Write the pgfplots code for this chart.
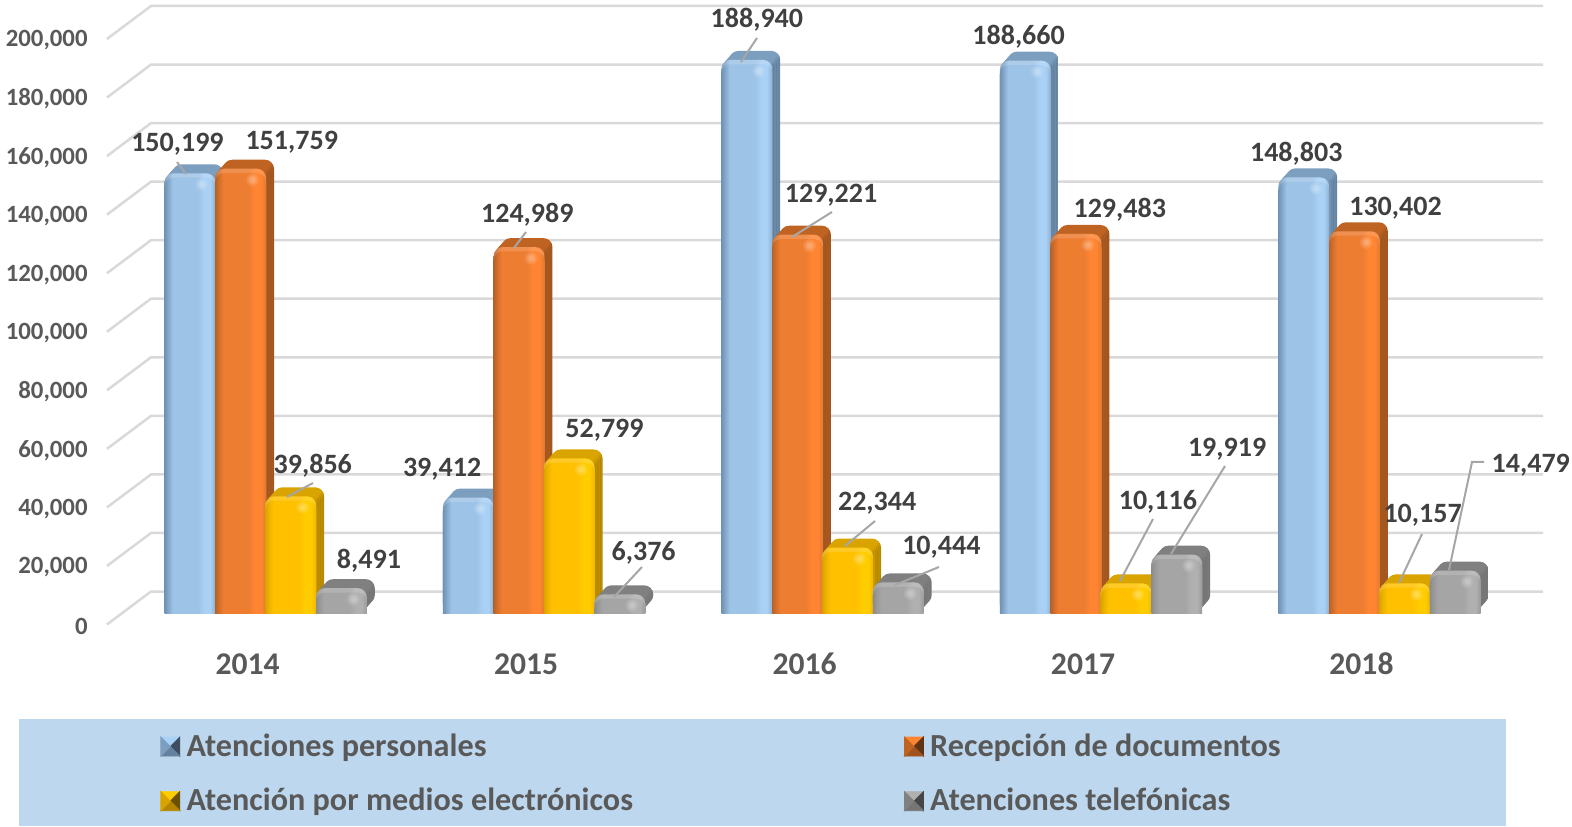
\documentclass[border=0pt]{standalone}
\usepackage{fontspec}
\setmainfont{Carlito}
\usepackage{pgfplots}
\usepackage{pgfplotstable}
\pgfplotsset{compat=1.18}

\definecolor{gridc}{HTML}{D9D9D9}
\definecolor{leadc}{HTML}{A6A6A6}
\definecolor{tickc}{HTML}{595959}
\definecolor{numc}{HTML}{404040}
\definecolor{legbg}{HTML}{BDD7EE}

% one set of tones per series: edge, edge2, base, bright, rim, top, side
\newcommand{\tones}[8]{%
  \definecolor{#1a}{HTML}{#2}\definecolor{#1b}{HTML}{#3}\definecolor{#1c}{HTML}{#4}%
  \definecolor{#1d}{HTML}{#5}\definecolor{#1e}{HTML}{#6}\definecolor{#1t}{HTML}{#7}\definecolor{#1s}{HTML}{#8}%
  \colorlet{#1al}{#1a!85!white}\colorlet{#1bl}{#1b!85!white}\colorlet{#1cl}{#1c!85!white}%
  \colorlet{#1dl}{#1d!85!white}\colorlet{#1el}{#1e!85!white}%
  \pgfdeclarehorizontalshading{#1face}{100bp}{color(0bp)=(#1a); color(25bp)=(#1a); color(29bp)=(#1b); color(33bp)=(#1c);
    color(58bp)=(#1c); color(64bp)=(#1d); color(70bp)=(#1d); color(75bp)=(#1e); color(100bp)=(#1e)}%
  \pgfdeclarehorizontalshading{#1bevel}{100bp}{color(0bp)=(#1al); color(25bp)=(#1al); color(29bp)=(#1bl); color(33bp)=(#1cl);
    color(58bp)=(#1cl); color(64bp)=(#1dl); color(70bp)=(#1dl); color(75bp)=(#1el); color(100bp)=(#1el)}%
  \pgfdeclarehorizontalshading{#1side}{100bp}{color(0bp)=(#1t); color(72bp)=(#1t); color(74bp)=(#1s); color(100bp)=(#1s)}%
}
\tones{blu}{6F93B5}{86AACC}{9DC3E6}{A9D0F5}{8DB0D0}{7D9FBF}{64829F}
\tones{ora}{B5622A}{D7702B}{ED7D31}{FF8533}{E07A30}{BF6323}{A0551F}
\tones{yel}{D9A300}{F0B400}{FFC000}{FFCC00}{F0B800}{D9A300}{B38600}
\tones{gra}{8C8C8C}{9A9A9A}{A5A5A5}{B0B0B0}{9A9A9A}{808080}{757575}

\pgfplotstableread{
year  per     doc     med    tel
2014  150199  151759  39856  8491
2015  39412   124989  52799  6376
2016  188940  129221  22344  10444
2017  188660  129483  10116  19919
2018  148803  130402  10157  14479
}\datatable

% label centres in picture pixels
\pgfplotstableread{
px    py   val
177   144  150199
291   142  151759
312   466  39856
368   561  8491
441   469  39412
526   215  124989
603   430  52799
642   553  6376
755   20   188940
829   195  129221
875   503  22344
939   547  10444
1016  37   188660
1117  210  129483
1155  502  10116
1224  449  19919
1293  154  148803
1392  208  130402
1419  515  10157
1527  465  14479
}\labeltable

\newcommand{\px}[2]{rel axis cs:{(#1)/1572},{1-(#2)/826}}
\newcommand{\leader}[1]{\draw[leadc,line width=1pt] #1;}

% one bar: side copies pushed back, then the face, its top bevel and its square foot
\newcommand{\onebar}[4]{%
  \pgfplotsinvokeforeach{5,4,3,2,1}{
    \addplot[forget plot,ybar,bar width=0.1825,bar shift=#2,draw=none,shade,shading=#3side,
      restrict x to domain=#4:#4,rounded corners=4.5pt,xshift=##1*0.8pt,yshift=##1*0.9pt]
      table[x=year,y=#1] {\datatable};
  }
  \addplot[forget plot,ybar,bar width=0.1825,bar shift=#2,draw=none,shade,shading=#3bevel,
    restrict x to domain=#4:#4,rounded corners=4.5pt] table[x=year,y=#1] {\datatable};
  \addplot[forget plot,ybar,bar width=0.1825,bar shift=#2,draw=none,shade,shading=#3face,
    restrict x to domain=#4:#4,rounded corners=4.5pt] table[x=year,y expr=\thisrow{#1}-1500] {\datatable};
  \addplot[forget plot,ybar,bar width=0.1825,bar shift=#2,draw=none,shade,shading=#3face,
    restrict x to domain=#4:#4] table[x=year,y expr=\thisrow{#1}-4600] {\datatable};
}
\newcommand{\glow}[5]{% column, shift, tone prefix, size, opacity
  \addplot[forget plot,only marks,mark=*,mark size=#4,
    mark options={draw opacity=0,line width=0pt,fill=#3d!45!white,fill opacity=#5}]
    table[x expr=\thisrow{year}+#2+0.043,y expr=\thisrow{#1}-3800] {\datatable};
}
\newcommand{\bars}[3]{% column, shift, tone prefix
  \onebar{#1}{#2}{#3}{2014}\onebar{#1}{#2}{#3}{2015}\onebar{#1}{#2}{#3}{2016}%
  \onebar{#1}{#2}{#3}{2017}\onebar{#1}{#2}{#3}{2018}%
  \glow{#1}{#2}{#3}{3.2pt}{0.18}\glow{#1}{#2}{#3}{2.3pt}{0.22}\glow{#1}{#2}{#3}{1.4pt}{0.28}%
}

\newcommand{\pyramid}[5]{% top, right, bottom, left, text
  \addlegendimage{legend image code/.code={
    \fill[#1] (0pt,4.75pt)--(9.5pt,4.75pt)--(4.75pt,0pt)--cycle;
    \fill[#2] (9.5pt,4.75pt)--(9.5pt,-4.75pt)--(4.75pt,0pt)--cycle;
    \fill[#3] (0pt,-4.75pt)--(9.5pt,-4.75pt)--(4.75pt,0pt)--cycle;
    \fill[#4] (0pt,4.75pt)--(0pt,-4.75pt)--(4.75pt,0pt)--cycle;
  }}
  \addlegendentry{#5}
}

\begin{document}
\begin{tikzpicture}
\begin{axis}[
  scale only axis,
  width=786pt, height=413pt,
  xmin=2013.0459, xmax=2018.6915,
  ymin=-72758, ymax=209394,
  clip=false,
  axis line style={draw=none},
  tick style={draw=none},
  scaled ticks=false,
  xtick={2014,2015,2016,2017,2018},
  ytick={0,20000,40000,60000,80000,100000,120000,140000,160000,180000,200000},
  /pgf/number format/fixed,
  /pgf/number format/precision=0,
  /pgf/number format/assume math mode=true,
  xticklabel style={/pgf/number format/1000 sep={},font=\fontsize{15.8}{16}\selectfont\bfseries,
    text=tickc,anchor=center,xshift=-9pt,yshift=81pt},
  yticklabel style={/pgf/number format/1000 sep={,},font=\fontsize{12.4}{13}\selectfont\bfseries,
    text=tickc,anchor=east,inner xsep=0pt,xshift=44pt,yshift=-6.5pt},
  legend columns=2,
  legend cell align=left,
  legend style={at={(axis description cs:0.1018,0.1170)},anchor=north west,draw=none,fill=none,inner sep=0pt,
    font=\fontsize{16.1}{17}\selectfont\bfseries,text=tickc,
    /tikz/every odd column/.append style={column sep=1.2pt},
    /tikz/every even column/.append style={column sep=133.5pt},row sep=10.5pt},
]
  % back wall and side wall
  \pgfplotsinvokeforeach{0,...,10}{
    \draw[gridc,line width=1.25pt] (\px{107}{39+58.55*#1}) -- (\px{151}{6+58.55*#1}) -- (\px{1543}{6+58.55*#1});
  }
  % legend band
  \fill[legbg] (\px{19}{719}) rectangle (\px{1506}{826});

  \bars{per}{-0.272}{blu}
  \bars{doc}{-0.09}{ora}
  \bars{med}{0.09}{yel}
  \bars{tel}{0.272}{gra}

  % leader lines
  \leader{(\px{177}{162}) -- (\px{186}{174})}
  \leader{(\px{313}{483}) -- (\px{287}{497})}
  \leader{(\px{526}{232}) -- (\px{514}{248})}
  \leader{(\px{642}{567}) -- (\px{614}{597})}
  \leader{(\px{757}{38}) -- (\px{741}{62})}
  \leader{(\px{832}{212}) -- (\px{792}{237})}
  \leader{(\px{875}{521}) -- (\px{845}{546})}
  \leader{(\px{939}{567}) -- (\px{895}{585})}
  \leader{(\px{1153}{519}) -- (\px{1120}{581})}
  \leader{(\px{1225}{466}) -- (\px{1171}{554})}
  \leader{(\px{1422}{534}) -- (\px{1399}{583})}
  \leader{(\px{1484}{462}) -- (\px{1472}{462}) -- (\px{1449}{570})}

  % value labels
  \addplot[forget plot,draw=none,no markers,point meta=explicit,
    nodes near coords,
    every node near coord/.append style={anchor=center,inner sep=0pt,text=numc,
      font=\fontsize{14}{15}\selectfont\bfseries,
      /pgf/number format/1000 sep={,}}]
    table[x expr=2013.0459+\thisrow{px}/277.75,y expr=(613-\thisrow{py})*341.59,meta=val] {\labeltable};

  \pyramid{blud}{blus!60!black}{blus}{blut}{Atenciones personales}
  \pyramid{orad}{oras!60!black}{oras}{orat}{Recepción de documentos}
  \pyramid{yeld}{yels!60!black}{yels}{yelt}{Atención por medios electrónicos}
  \pyramid{grad}{gras!60!black}{gras}{grat}{Atenciones telefónicas}
\end{axis}
\end{tikzpicture}
\end{document}
